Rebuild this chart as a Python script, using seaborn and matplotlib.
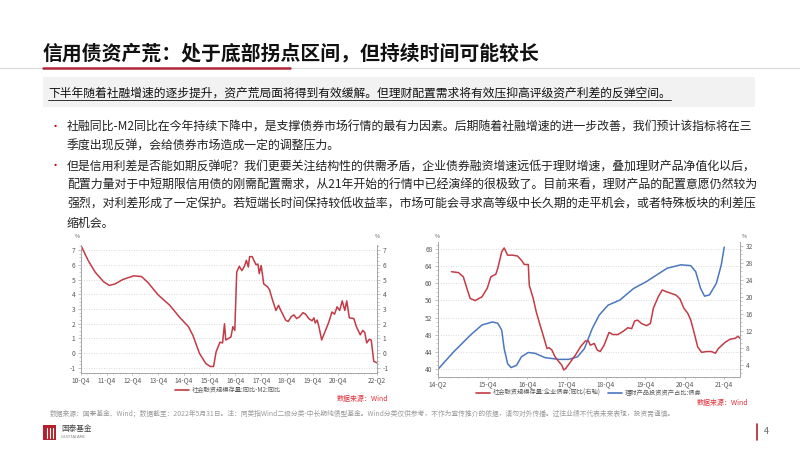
import matplotlib
matplotlib.use('Agg')
import matplotlib.pyplot as plt
import seaborn as sns
import pandas as pd
from matplotlib.lines import Line2D
from matplotlib.patches import Rectangle
from matplotlib.ticker import MultipleLocator

sns.set_theme(style='white')
plt.rcParams['font.family'] = ['Noto Sans CJK SC', 'DejaVu Sans']
plt.rcParams['axes.unicode_minus'] = False

# ---------------- text ----------------
title = '信用债资产荒：处于底部拐点区间，但持续时间可能较长'
highlight = '下半年随着社融增速的逐步提升，资产荒局面将得到有效缓解。但理财配置需求将有效压抑高评级资产利差的反弹空间。'
bullet1 = ['社融同比-M2同比在今年持续下降中，是支撑债券市场行情的最有力因素。后期随着社融增速的进一步改善，我们预计该指标将在三',
           '季度出现反弹，会给债券市场造成一定的调整压力。']
bullet2 = ['但是信用利差是否能如期反弹呢？我们更要关注结构性的供需矛盾，企业债券融资增速远低于理财增速，叠加理财产品净值化以后，',
           '配置力量对于中短期限信用债的刚需配置需求，从21年开始的行情中已经演绎的很极致了。目前来看，理财产品的配置意愿仍然较为',
           '强烈，对利差形成了一定保护。若短端长时间保持较低收益率，市场可能会寻求高等级中长久期的走平机会，或者特殊板块的利差压',
           '缩机会。']
footer = ('数据来源：国泰基金、Wind；数据截至：2022年5月31日。注：同类指Wind二级分类-中长期纯债型基金。'
          'Wind分类仅供参考，不作为宣传推介的依据，请勿对外传播。过往业绩不代表未来表现，投资需谨慎。')

# ---------------- left chart data (quarters since 10-Q4) ----------------
left_q = [0, 1.1, 2.2, 3.5, 4.4, 5.3, 6.5, 8.2, 9.4, 10.4, 12, 13.8, 15.3, 16.7, 17.4,
          18.4, 19.4, 20.1, 20.6, 21, 21.6, 22, 22.3, 22.5, 23.3, 23.6, 23.9, 24.2, 24.6,
          25, 25.4, 25.7, 26, 26.2, 26.6, 27.2, 27.5, 27.7, 28, 28.4, 29, 29.3, 29.7,
          30.3, 30.7, 31, 31.4, 31.8, 32.2, 32.7, 33.1, 33.5, 33.9, 34.5, 34.9, 35.4,
          35.9, 36.2, 36.4, 36.7, 37.0, 37.4, 38, 38.5, 39, 39.4, 39.8, 40.2, 40.6, 41,
          41.3, 41.7, 42.4, 42.8, 43.4, 43.8, 44.1, 44.4, 44.8, 45.1, 45.5, 46]
left_v = [7.3, 6.3, 5.5, 4.85, 4.6, 4.7, 5.0, 5.25, 5.2, 4.8, 3.95, 3.25, 2.45, 1.8, 1.2,
          0.0, -0.7, -0.9, -0.9, 0.1, 0.75, 0.7, 2.0, 0.9, 1.1, 1.8, 1.55, 5.5, 5.9,
          5.6, 5.9, 6.3, 5.85, 6.55, 6.55, 6.0, 6.05, 5.4, 5.95, 4.7, 4.5, 4.3, 3.7,
          2.9, 3.25, 2.95, 2.6, 2.25, 2.15, 2.5, 2.6, 2.35, 2.45, 2.75, 2.65, 2.35,
          2.2, 2.4, 2.05, 2.25, 1.75, 0.9, 1.55, 2.1, 2.8, 2.65, 3.15, 2.9, 3.55, 2.9,
          3.55, 2.4, 2.35, 1.8, 1.25, 1.55, 1.4, 0.7, 0.95, 0.9, -0.55, -0.65]
left_xticks = [0, 4, 8, 12, 16, 20, 24, 28, 32, 36, 40, 46]
left_xlabels = ['10-Q4', '11-Q4', '12-Q4', '13-Q4', '14-Q4', '15-Q4', '16-Q4', '17-Q4',
                '18-Q4', '19-Q4', '20-Q4', '22-Q2']
left_yticks = [-1, 0, 1, 2, 3, 4, 5, 6, 7]
left_legend = '社会融资规模存量:同比-M2:同比'

# ---------------- right chart data ----------------
blue_q = [0.93, 2.5, 4.2, 5.4, 6.45, 7.0, 7.4, 7.65, 8.0, 8.35, 8.9, 9.4, 10.1, 10.8,
          11.8, 13.2, 14.2, 15.1, 15.8, 16.6, 17.3, 18.2, 19.4, 20.8, 22.1, 24.2, 25.6,
          26.6, 27.1, 27.6, 28.0, 28.5, 29.2, 29.7, 30.0]
blue_v = [40.0, 44.0, 47.9, 50.3, 51.0, 50.7, 49.1, 44.8, 41.3, 40.4, 40.9, 42.9, 43.9,
          43.7, 42.7, 42.3, 42.3, 42.9, 44.8, 49.5, 52.6, 54.9, 56.1, 58.8, 60.4, 63.5,
          64.3, 64.1, 62.7, 58.8, 57.0, 57.3, 60.0, 64.3, 68.4]
red_q = [2.3, 3.0, 3.5, 3.86, 4.2, 4.7, 5.4, 5.93, 6.3, 6.8, 7.0, 7.4, 7.65, 8.0, 8.5,
         9.0, 9.4, 9.7, 10.1, 10.2, 10.6, 10.9, 11.3, 11.6, 12.0, 12.2, 12.5, 12.8, 13.2,
         13.5, 13.7, 13.9, 14.4, 14.9, 15.4, 15.9, 16.2, 16.4, 16.8, 17.1, 17.4, 17.8,
         18.2, 18.3, 18.7, 19.2, 19.7, 20.2, 20.6, 20.9, 21.2, 21.6, 22.1, 22.5, 22.8,
         23.3, 23.7, 24.0, 24.6, 25.1, 25.5, 25.9, 26.3, 26.6, 27.0, 27.3, 27.7, 28.2,
         28.7, 29.1, 29.4, 30.1, 30.6, 31.1, 31.4, 31.6]
red_v = [25.9, 25.7, 24.7, 22.0, 19.6, 19.1, 20.0, 22.0, 24.7, 25.3, 26.7, 30.6, 31.5,
         29.8, 29.8, 29.6, 28.6, 27.6, 27.6, 22.7, 19.6, 16.5, 13.3, 11.0, 7.8, 8.0, 7.45,
         5.9, 4.7, 3.9, 2.75, 3.1, 4.7, 6.3, 8.2, 9.6, 9.6, 8.6, 9.0, 7.45, 7.1, 8.6,
         11.0, 11.6, 11.1, 11.1, 11.8, 12.7, 12.5, 14.3, 14.5, 13.7, 13.2, 13.7, 17.3,
         20.0, 21.6, 21.3, 20.8, 20.4, 19.5, 17.3, 16.1, 14.5, 11.0, 8.2, 6.9, 7.1, 7.1,
         6.7, 7.8, 9.3, 10.0, 10.2, 10.7, 10.2]
right_xticks = [0.93, 6, 10, 14, 18, 22, 26, 30]
right_xlabels = ['14-Q2', '15-Q4', '16-Q4', '17-Q4', '18-Q4', '19-Q4', '20-Q4', '21-Q4']
right_yticks_l = [40, 44, 48, 52, 56, 60, 64, 68]
right_yticks_r = [4, 8, 12, 16, 20, 24, 28, 32]
red_label = '社会融资规模存量:企业债券:同比(右轴)'
blue_label = '理财产品投资资产占比:债券'
source = '数据来源：Wind'

RED = '#C23B46'
BLUE = '#4A77BE'
GRAY = '#595959'
SPINE = '#A6A6A6'

W, H = 800, 450
fig = plt.figure(figsize=(8, 4.5), dpi=100)
fig.patch.set_facecolor('white')


def fx(px):
    return px / W


def fy(py):
    return 1 - py / H


# ---------------- header ----------------
fig.text(fx(43), fy(53), title, fontsize=14.3, fontweight='bold', color='#111111',
         va='center', ha='left')
fig.add_artist(Line2D([0, 1], [fy(67.5), fy(67.5)], transform=fig.transFigure,
                      color='#D9D9D9', lw=0.8))
fig.add_artist(Line2D([fx(43), fx(290)], [fy(67.5), fy(67.5)], transform=fig.transFigure,
                      color='#B0283A', lw=1.8))
fig.add_artist(Rectangle((fx(43), fy(107)), fx(755) - fx(43), fy(77) - fy(107),
                         transform=fig.transFigure, facecolor='#F2F2F2', edgecolor='none'))
ht = fig.text(fx(48), fy(93), highlight, fontsize=8.5, color='#111111', va='center', ha='left')

# ---------------- bullets ----------------
lines_y1 = [127, 146]
lines_y2 = [166, 185, 204, 223]
for ys, texts in ((lines_y1, bullet1), (lines_y2, bullet2)):
    fig.text(fx(50), fy(ys[0]), '•', fontsize=8, color='#C00000', va='center', ha='left')
    for yy, tt in zip(ys, texts):
        fig.text(fx(67), fy(yy), tt, fontsize=8.6, color='#222222', va='center', ha='left')

# ---------------- left chart ----------------
axL = fig.add_axes([fx(81), fy(373), fx(377) - fx(81), fy(245) - fy(373)])
dfL = pd.DataFrame({'q': left_q, 'v': left_v})
sns.lineplot(data=dfL, x='q', y='v', ax=axL, color=RED, linewidth=1.1, legend=False)
axL.set_xlim(0, 46)
axL.set_ylim(-1.34, 7.34)
axL.set_yticks(left_yticks)
axL.set_xticks(left_xticks)
axL.set_xticklabels(left_xlabels)
axL.xaxis.set_minor_locator(MultipleLocator(1))
axL.yaxis.set_minor_locator(MultipleLocator(0.25))
axL.set_xlabel('')
axL.set_ylabel('')
axL.yaxis.grid(True, linestyle=(0, (1, 2)), color='#CFCFCF', linewidth=0.6)
axL2 = axL.twinx()
axL2.set_ylim(axL.get_ylim())
axL2.set_yticks(left_yticks)
axL2.yaxis.set_minor_locator(MultipleLocator(0.25))

# ---------------- right chart ----------------
axR = fig.add_axes([fx(438), fy(377), fx(740) - fx(438), fy(242) - fy(377)])
dfB = pd.DataFrame({'q': blue_q, 'v': blue_v})
sns.lineplot(data=dfB, x='q', y='v', ax=axR, color=BLUE, linewidth=1.1, legend=False)
axR.set_xlim(0.93, 31.6)
axR.set_ylim(38.2, 69.6)
axR.set_yticks(right_yticks_l)
axR.set_xticks(right_xticks)
axR.set_xticklabels(right_xlabels)
axR.xaxis.set_minor_locator(MultipleLocator(1))
axR.yaxis.set_minor_locator(MultipleLocator(1))
axR.set_xlabel('')
axR.set_ylabel('')
axR.yaxis.grid(True, linestyle=(0, (1, 2)), color='#CFCFCF', linewidth=0.6)
axR2 = axR.twinx()
dfR = pd.DataFrame({'q': red_q, 'v': red_v})
sns.lineplot(data=dfR, x='q', y='v', ax=axR2, color=RED, linewidth=1.1, legend=False)
axR2.set_ylim(1.1, 32.9)
axR2.set_yticks(right_yticks_r)
axR2.yaxis.set_minor_locator(MultipleLocator(1))
axR2.set_ylabel('')
axR2.set_xlim(0.93, 31.6)

for ax in (axL, axL2, axR, axR2):
    ax.set_facecolor('none')
    ax.spines['top'].set_visible(False)
    for s in ('left', 'right', 'bottom'):
        ax.spines[s].set_color(SPINE)
        ax.spines[s].set_linewidth(0.6)
    ax.tick_params(axis='y', which='major', labelsize=4.8, colors=SPINE, labelcolor=GRAY,
                   length=2.5, width=0.5, pad=1.5, direction='out')
    ax.tick_params(axis='y', which='minor', colors=SPINE, length=1.5, width=0.4,
                   direction='out')
    ax.tick_params(axis='x', which='major', labelsize=4.8, colors=SPINE, labelcolor=GRAY,
                   length=1.5, width=0.5, pad=0.8, direction='out')
    ax.tick_params(axis='x', which='minor', colors=SPINE, length=1.0, width=0.4,
                   direction='out')
axL.tick_params(axis='y', which='both', left=True, right=False)
axL.tick_params(axis='x', which='both', bottom=True)
axR.tick_params(axis='y', which='both', left=True)
axR.tick_params(axis='x', which='both', bottom=True)
axR2.set_xlabel('')

# percent units
for px, py in ((77, 237), (377, 237), (437, 236), (744, 236)):
    fig.text(fx(px), fy(py), '%', fontsize=4, color=GRAY, ha='center', va='center')

# legends
fig.legend(handles=[Line2D([], [], color=RED, lw=1.2)], labels=[left_legend],
           loc='center', bbox_to_anchor=(fx(228), fy(390)), frameon=False, fontsize=4.5,
           handlelength=2.2, handletextpad=0.5, labelcolor=GRAY, borderpad=0.1)
fig.legend(handles=[Line2D([], [], color=RED, lw=1.2), Line2D([], [], color=BLUE, lw=1.2)],
           labels=[red_label, blue_label], ncol=2, loc='center',
           bbox_to_anchor=(fx(589), fy(393)), frameon=False, fontsize=4.5,
           handlelength=2.2, handletextpad=0.5, columnspacing=1.2, labelcolor=GRAY,
           borderpad=0.1)
fig.text(fx(388), fy(399), source, fontsize=5, color='#E0303A', ha='right', va='center')
fig.text(fx(748), fy(403), source, fontsize=5, color='#E0303A', ha='right', va='center')

# ---------------- footer ----------------
fig.text(fx(50), fy(414), footer, fontsize=4.9, color='#9A9A9A', ha='left', va='center')
fig.add_artist(Rectangle((fx(43), fy(440)), fx(56) - fx(43), fy(425) - fy(440),
                         transform=fig.transFigure, facecolor='#B3202E', edgecolor='none'))
for bx in (46.5, 49.5, 52.5):
    fig.add_artist(Line2D([fx(bx), fx(bx)], [fy(438), fy(428)], transform=fig.transFigure,
                          color='white', lw=0.8))
fig.text(fx(61), fy(429), '国泰基金', fontsize=5.5, color='#444444', ha='left', va='center')
fig.text(fx(61), fy(437), 'GUOTAI AMC', fontsize=3, color='#777777', ha='left', va='center')
fig.add_artist(Line2D([fx(757), fx(757)], [fy(424), fy(440)], transform=fig.transFigure,
                      color='#B3202E', lw=1.2))
fig.text(fx(764), fy(432), '4', fontsize=6.5, color='#666666', ha='left', va='center')

# underline for highlight text
fig.canvas.draw()
bb = ht.get_window_extent(renderer=fig.canvas.get_renderer())
inv = fig.transFigure.inverted()
(x0, y0), (x1, y1) = inv.transform([(bb.x0, bb.y0), (bb.x1, bb.y1)])
fig.add_artist(Line2D([x0, x1], [y0 - 0.002, y0 - 0.002], transform=fig.transFigure,
                      color='#111111', lw=0.6))

fig.savefig('out.png', dpi=100)
